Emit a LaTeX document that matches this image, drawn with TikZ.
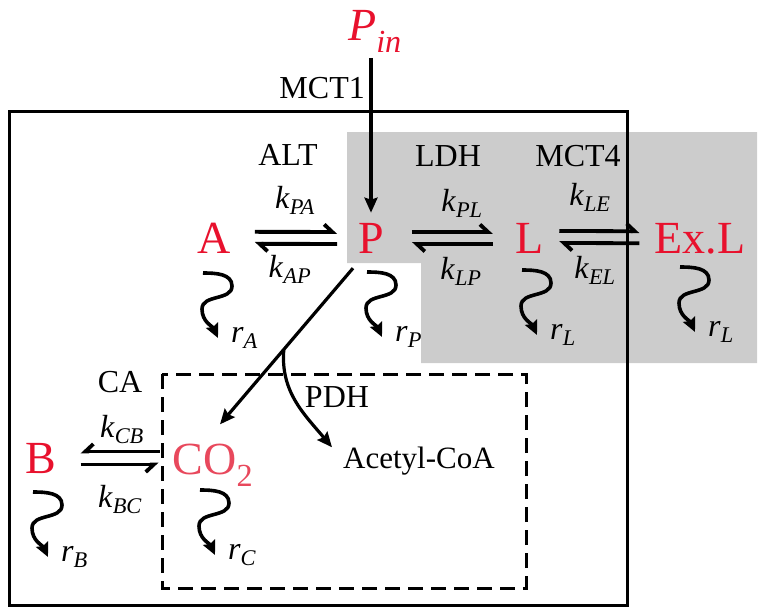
\documentclass[tikz,border=0pt]{standalone}
\usepackage{amsmath}
\usepackage{fontspec}
\setmainfont{Liberation Serif}
\usetikzlibrary{arrows.meta}
\usetikzlibrary{calc}
\definecolor{specred}{RGB}{232,17,45}
\definecolor{co2red}{RGB}{232,72,92}
\definecolor{cytogray}{RGB}{204,204,204}
\tikzstyle{species}=[text=specred,inner sep=0pt,anchor=base,font=\fontsize{46}{50}\selectfont]
\tikzstyle{lbl}=[inner sep=0pt,anchor=base,font=\fontsize{32}{36}\selectfont]
\tikzstyle{fwd}=[line width=3.8pt,-{Straight Barb[left,length=8pt,width=15pt]}]
\tikzstyle{bwd}=[line width=3.8pt,-{Straight Barb[right,length=8pt,width=15pt]}]
\tikzstyle{arr}=[line width=3.2pt,-{Stealth[length=15pt,width=13pt,inset=2pt]}]
\tikzstyle{decay}=[line width=3.6pt,-{Stealth[length=14pt,width=13pt,inset=2pt]}]
\newcommand{\rc}[2]{\textit{#1}$_{\textit{#2}}$}

\begin{document}
\begin{tikzpicture}[x=1pt,y=1pt]
        \useasboundingbox (0,0) rectangle (766,-614);

        % compartments
        \fill[cytogray] (347,-132) -- (757,-132) -- (757,-363) -- (421,-363)
          -- (421,-263) -- (347,-263) -- cycle;
        \draw[line width=3pt] (9,-111) rectangle (627,-605);
        \draw[line width=3pt,dash pattern=on 15pt off 8pt] (162,-374) rectangle (526,-588);

        % species
        \node[species] (Pin) at (375,-40) {\textit{P}$_{\textit{in}}$};
        \node[species] (A) at (214,-253) {A};
        \node[species] (P) at (371,-253) {P};
        \node[species] (L) at (530,-253) {L};
        \node[species] (E) at (700,-253) {Ex.L};
        \node[species] (B) at (41,-473) {B};
        \node[species,text=co2red] (CO2) at (213,-474) {CO$_{\textrm{2}}$};
        \node[lbl,anchor=base west,font=\fontsize{31}{36}\selectfont] (AcCoA) at (343,-468) {Acetyl-CoA};

        % enzymes and rates
        \node[lbl,anchor=base east] (mct1) at (365,-98) {MCT1};
        \node[lbl] (alt) at (288,-165) {ALT};
        \node[lbl] (ldh) at (448,-166) {LDH};
        \node[lbl] (mct4) at (578,-166) {MCT4};
        \node[lbl] (ca) at (120,-392) {CA};
        \node[lbl] (pdh) at (337,-407) {PDH};
        \node[lbl] (kPA) at (295,-208) {\rc{k}{PA}};
        \node[lbl] (kAP) at (290,-277) {\rc{k}{AP}};
        \node[lbl] (kPL) at (462,-211) {\rc{k}{PL}};
        \node[lbl] (kLP) at (461,-279) {\rc{k}{LP}};
        \node[lbl] (kLE) at (590,-205) {\rc{k}{LE}};
        \node[lbl] (kEL) at (595,-278) {\rc{k}{EL}};
        \node[lbl] (kCB) at (122,-437) {\rc{k}{CB}};
        \node[lbl] (kBC) at (120,-507) {\rc{k}{BC}};

        % reversible steps
        \draw[fwd,shorten <=24pt,shorten >=21pt] ([yshift=6pt]A.east) -- ([yshift=6pt]P.west);
        \draw[fwd,shorten <=21pt,shorten >=24pt] ([yshift=-6pt]P.west) -- ([yshift=-6pt]A.east);
        \draw[fwd,shorten <=28pt,shorten >=23pt] ([yshift=6pt]P.east) -- ([yshift=6pt]L.west);
        \draw[fwd,shorten <=23pt,shorten >=28pt] ([yshift=-6pt]L.west) -- ([yshift=-6pt]P.east);
        \draw[fwd,shorten <=15pt,shorten >=15pt] ([yshift=7pt]L.east) -- ([yshift=7pt]E.west);
        \draw[fwd,shorten <=15pt,shorten >=15pt] ([yshift=-5pt]E.west) -- ([yshift=-5pt]L.east);
        \draw[bwd,shorten <=13pt,shorten >=24pt] ($(B.east -| CO2.west)+(0,6.5)$) -- ($(B.east)+(0,6.5)$);
        \draw[bwd,shorten <=24pt,shorten >=14pt] ($(B.east)+(0,-6.5)$) -- ($(B.east -| CO2.west)+(0,-6.5)$);

        % uptake and oxidation
        \draw[arr,shorten <=5pt,shorten >=10pt] (P.north |- Pin.south) -- (P.north);
        \draw[arr] ($(P.south)+(-18,-15)$) -- coordinate[pos=0.52] (br) ($(CO2.north)+(7,19)$);
        \draw[arr] (br) to[out=-95,in=130] ($(AcCoA.north west)+(-11,-1)$);

        % decay
        \foreach \n/\x/\y/\s in {A/203/273/A,P/367/272/P,L/522/270/L,E/680/267/L,B/33/492/B,C/200/490/C}{
          \coordinate (w\n) at (\x,-\y);
          \draw[decay] (w\n) to[out=0,in=90] ++(29,-13) to[out=-90,in=90] ++(-30,-23)
            to[out=-90,in=115] ++(16,-29) coordinate (t\n);
          \node[lbl,anchor=base west] (r\n) at ($(t\n)+(13,-4)$) {\rc{r}{\s}};
        }
      \end{tikzpicture}
\end{document}
